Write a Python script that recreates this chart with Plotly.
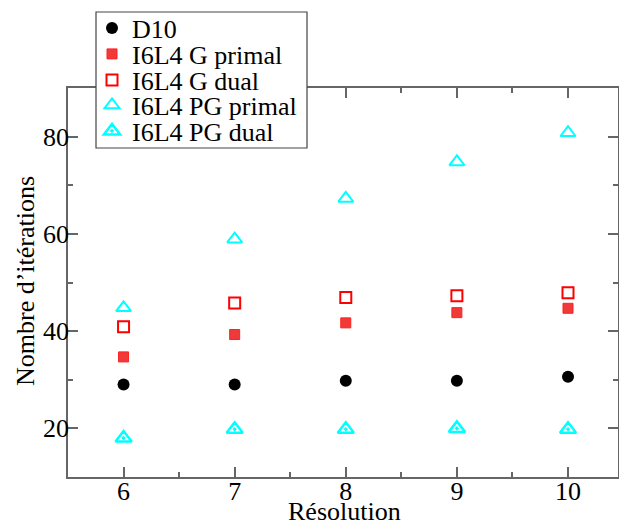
import plotly.graph_objects as go

resolution = [6, 7, 8, 9, 10]
d10 = [29, 29, 29.8, 29.8, 30.6]
g_primal = [34.7, 39.3, 41.7, 43.8, 44.7]
g_dual = [40.9, 45.8, 46.9, 47.3, 47.9]
pg_primal = [44.8, 58.9, 67.3, 74.8, 80.8]
pg_dual = [18, 19.8, 19.8, 20, 19.8]

series_names = ["D10", "I6L4 G primal", "I6L4 G dual", "I6L4 PG primal", "I6L4 PG dual"]
x_ticks = [6, 7, 8, 9, 10]
y_ticks = [20, 40, 60, 80]

font_family = "Liberation Serif, Times New Roman, serif"
FS = 26

W, H = 619, 529
# plot area in screen pixels
PL, PR, PT, PB = 68, 618, 88, 477
ML, MR, MT, MB = PL, W - PR, PT, H - PB
PW, PH = PR - PL, PB - PT


def px_x(px):
    return (px - PL) / PW


def px_y(py):
    return (PB - py) / PH


fig = go.Figure()
fig.add_trace(go.Scatter(x=resolution, y=d10, mode="markers", name=series_names[0], legend="legend",
                         marker=dict(symbol="circle", size=12, color="black")))
fig.add_trace(go.Scatter(x=resolution, y=g_primal, mode="markers", name=series_names[1], legend="legend2",
                         marker=dict(symbol="square", size=10, color="#f03a3a",
                                     line=dict(color="#ff2020", width=1))))
fig.add_trace(go.Scatter(x=resolution, y=g_dual, mode="markers", name=series_names[2], legend="legend3",
                         marker=dict(symbol="square-open", size=11, color="#ff0000",
                                     line=dict(color="#ff0000", width=2))))
fig.add_trace(go.Scatter(x=resolution, y=pg_primal, mode="markers", name=series_names[3], legend="legend4",
                         marker=dict(symbol="triangle-up-open", size=13, color="#00ffff",
                                     line=dict(color="#00ffff", width=2))))
fig.add_trace(go.Scatter(x=resolution, y=pg_dual, mode="markers", name=series_names[4], legend="legend5",
                         marker=dict(symbol="triangle-up-open-dot", size=14, color="#00ffff",
                                     line=dict(color="#00ffff", width=2.5))))

axis_common = dict(
    showline=True, linecolor="#666666", linewidth=1.5, mirror="ticks",
    ticks="inside", tickcolor="#666666", ticklen=10, tickwidth=1.5,
    showgrid=False, zeroline=False, automargin=False,
    tickfont=dict(family=font_family, size=FS, color="black"),
)

fig.update_xaxes(range=[5.5, 10.45], tickvals=x_ticks, ticktext=[str(v) for v in x_ticks],
                 ticklabelstandoff=-10,
                 minor=dict(ticks="inside", ticklen=5, tickcolor="#666666", tickwidth=1.5,
                            tickvals=[6.5, 7.5, 8.5, 9.5]),
                 **axis_common)
fig.update_yaxes(range=[10, 90], tickvals=y_ticks, ticktext=[str(v) for v in y_ticks],
                 ticklabelstandoff=-8,
                 minor=dict(ticks="inside", ticklen=5, tickcolor="#666666", tickwidth=1.5,
                            tickvals=[30, 50, 70]),
                 **axis_common)

# axis titles
fig.add_annotation(text="Résolution", xref="paper", yref="paper", x=px_x(344), y=px_y(511),
                   xanchor="center", yanchor="middle", showarrow=False,
                   font=dict(family=font_family, size=FS, color="black"))
fig.add_annotation(text="Nombre d’itérations", xref="paper", yref="paper", x=px_x(25), y=px_y(281),
                   xanchor="center", yanchor="middle", showarrow=False, textangle=-90,
                   font=dict(family=font_family, size=FS, color="black"))

# legend frame
fig.add_shape(type="rect", xref="paper", yref="paper", layer="above",
              x0=px_x(96), x1=px_x(307), y0=px_y(148), y1=px_y(12),
              fillcolor="white", line=dict(color="#444444", width=1.2))

row_centers = [28, 54, 80, 105, 131]
legend_layout = {}
for i, yc in enumerate(row_centers):
    key = "legend" if i == 0 else f"legend{i + 1}"
    legend_layout[key] = dict(
        x=px_x(92), y=px_y(yc), xanchor="left", yanchor="middle",
        bgcolor="rgba(0,0,0,0)", borderwidth=0,
        font=dict(family=font_family, size=FS, color="black"),
        itemwidth=30, visible=True,
    )

fig.update_layout(
    width=W, height=H,
    margin=dict(l=ML, r=MR, t=MT, b=MB, autoexpand=False),
    plot_bgcolor="white", paper_bgcolor="white",
    font=dict(family=font_family, color="black"),
    showlegend=True,
    **legend_layout,
)

fig.write_html("out.html",
               config={"displayModeBar": False},
               post_script="document.body.style.margin='0';document.body.style.overflow='hidden';")
